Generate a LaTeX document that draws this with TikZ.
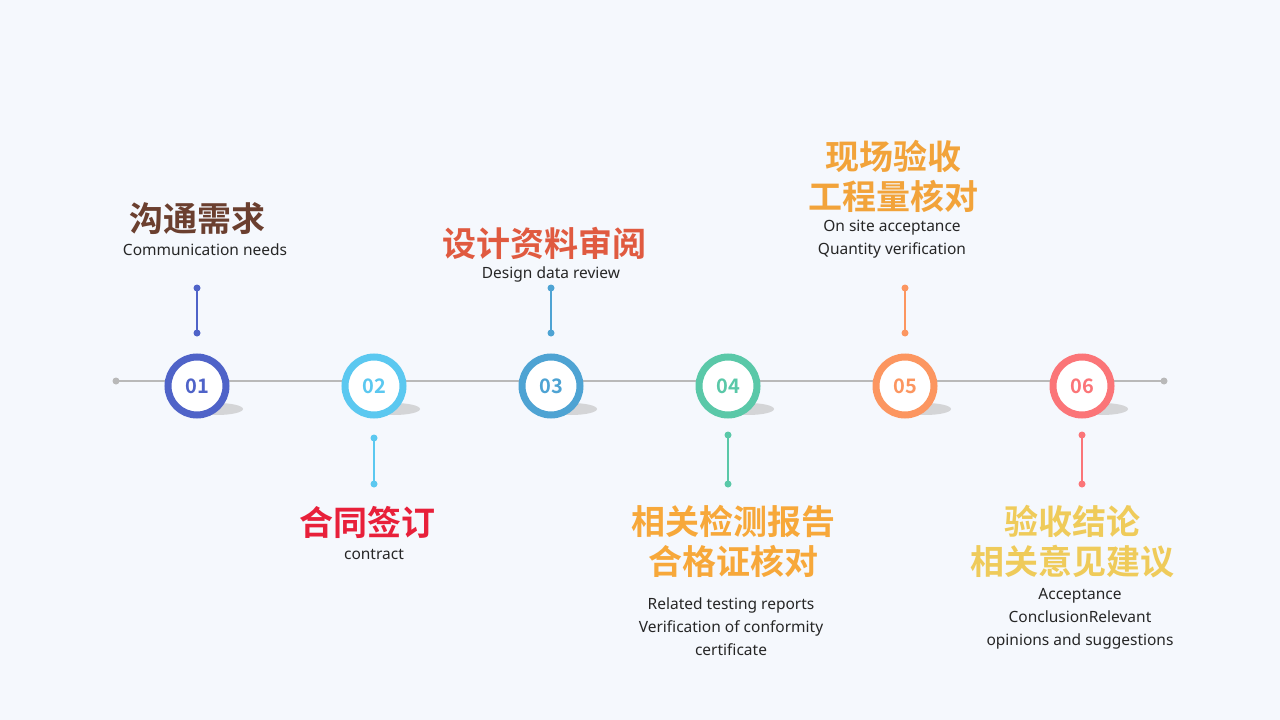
\documentclass[tikz,border=0pt]{standalone}
\usepackage{fontspec}
\setmainfont{Noto Sans}
\newfontfamily\cjk{Noto Sans CJK SC}[BoldFont=* Bold]
\definecolor{bg}{HTML}{F5F8FD}
\definecolor{ca}{HTML}{4F63C8}\definecolor{cb}{HTML}{5BC8F0}\definecolor{cc}{HTML}{4EA3D3}
\definecolor{cd}{HTML}{5AC8A8}\definecolor{ce}{HTML}{FC9660}\definecolor{cf}{HTML}{FB7578}
\definecolor{ta}{HTML}{6B3F2F}\definecolor{tb}{HTML}{E8203A}\definecolor{tc}{HTML}{E05A40}
\definecolor{td}{HTML}{F7A83A}\definecolor{te}{HTML}{F2A33A}\definecolor{tf}{HTML}{EFCB5A}
\begin{document}
\begin{tikzpicture}[x=1pt,y=-1pt,
  ttl/.style={font=\cjk\bfseries\fontsize{34}{40}\selectfont,align=center,inner sep=0},
  sub/.style={font=\fontsize{15.5}{23}\selectfont,align=center,inner sep=0,text=black!85},
  num/.style={font=\cjk\bfseries\fontsize{20}{20}\selectfont},
  ring/.style={circle,minimum size=58pt,line width=7pt,fill=white,inner sep=0}]
\fill[bg] (0,0) rectangle (1280,720);
\useasboundingbox (0,0) rectangle (1280,720);
\coordinate (L) at (116,381); \coordinate (R) at (1164,381);
\draw[gray!55,line width=1.5pt] (L) -- (R);
\fill[gray!55] (L) circle (3.5); \fill[gray!55] (R) circle (3.5);
\foreach \x/\c/\n in {197/ca/01,374/cb/02,551/cc/03,728/cd/04,905/ce/05,1082/cf/06}{
  \fill[black!25,opacity=0.6] (\x+20,409) ellipse (26 and 6);
  \node[ring,draw=\c,text=\c,num] (n\n) at (\x,386) {\n};
}
\foreach \x/\c/\a/\b in {197/ca/288/333,551/cc/288/333,905/ce/288/333,374/cb/438/484,728/cd/435/484,1082/cf/435/484}{
  \coordinate (s1) at (\x,\a); \coordinate (s2) at (\x,\b);
  \draw[\c,line width=1.3pt] (s1) -- (s2);
  \fill[\c] (s1) circle (3.5); \fill[\c] (s2) circle (3.5);
}
\node[ttl,text=ta] (t1) at (197,219) {沟通需求};
\node[sub] (e1) at (205,250) {Communication needs};
\node[ttl,text=tb] (t2) at (367,522) {合同签订};
\node[sub] (e2) at (374,554) {contract};
\node[ttl,text=tc] (t3) at (544,243) {设计资料审阅};
\node[sub] (e3) at (551,274) {Design data review};
\node[ttl,text=td] (t4) at (733,541) {相关检测报告\\合格证核对};
\node[sub] (e4) at (731,627) {Related testing reports\\Verification of conformity\\certificate};
\node[ttl,text=te] (t5) at (893,176) {现场验收\\工程量核对};
\node[sub] (e5) at (892,239) {On site acceptance\\Quantity verification};
\node[ttl,text=tf] (t6) at (1072,542) {验收结论\\相关意见建议};
\node[sub] (e6) at (1080,619) {Acceptance\\ConclusionRelevant\\opinions and suggestions};
\end{tikzpicture}
\end{document}
